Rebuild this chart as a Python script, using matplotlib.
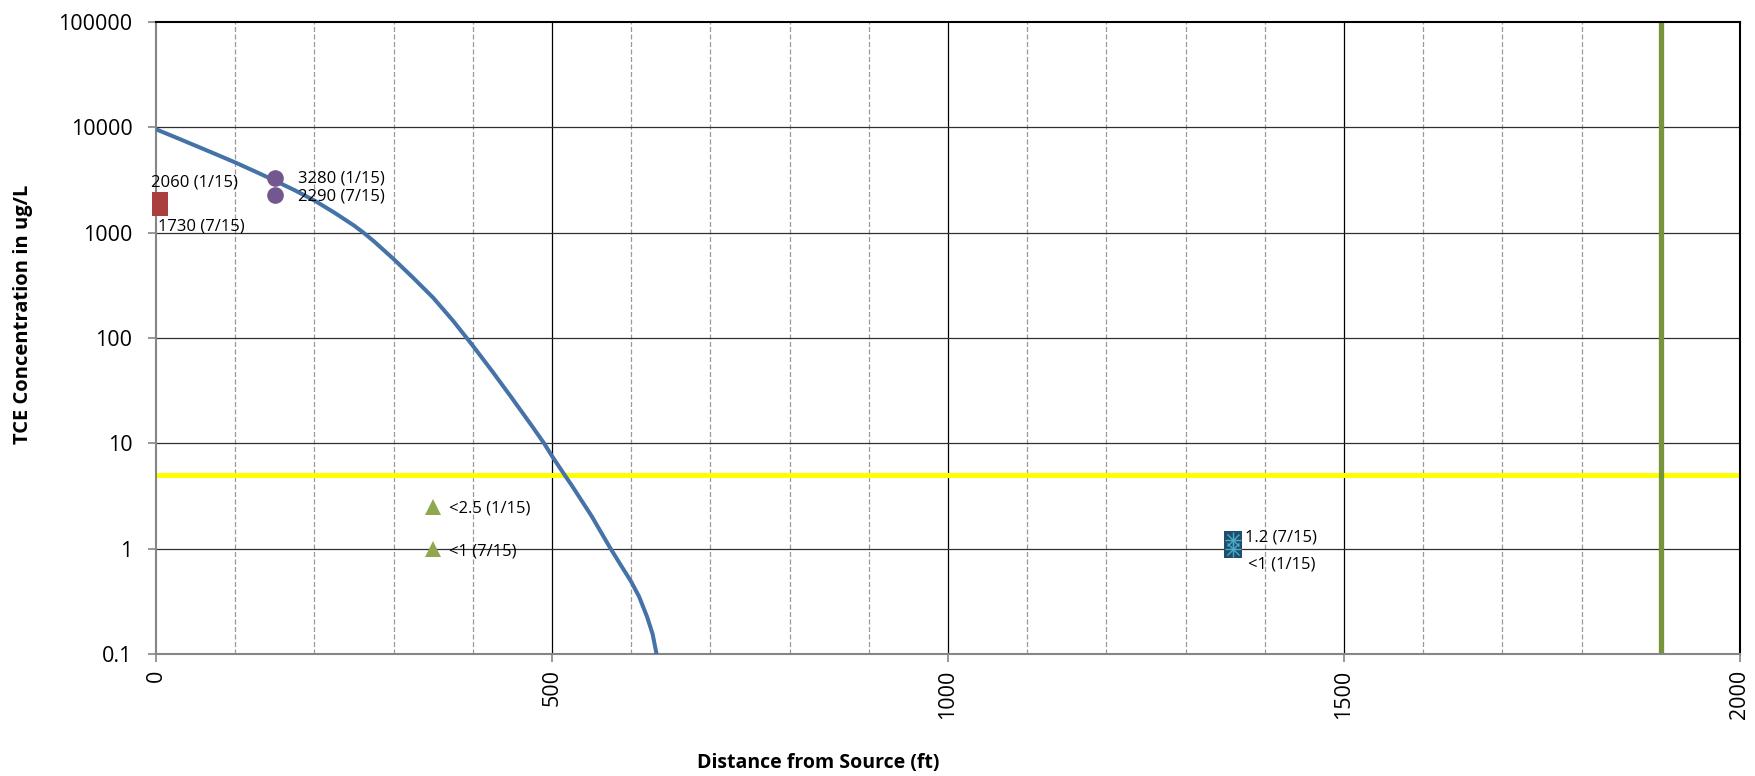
import numpy as np
import matplotlib.pyplot as plt
from matplotlib.ticker import FixedLocator, MultipleLocator, FixedFormatter

plt.rcParams['font.family'] = ['Open Sans', 'DejaVu Sans']

# model curve
curve_x = [0, 25, 50, 75, 100, 125, 150, 175, 200, 225, 250, 262, 275, 300, 325,
           350, 375, 400, 425, 450, 475, 490, 500, 516, 525, 550, 574, 590, 600,
           610, 620, 627, 632]
curve_y = [9580, 8020, 6690, 5580, 4640, 3815, 3120, 2530, 2020, 1553, 1169, 1000,
           830, 562, 371, 241, 146, 84.5, 47.8, 26.5, 14.5, 10, 7.57, 5, 3.98,
           2.04, 1, 0.64, 0.486, 0.35, 0.226, 0.155, 0.1]

# monitoring wells
sq_x = [5, 5]
sq_y = [2060, 1730]
sq_lab = ["2060 (1/15)", "1730 (7/15)"]

circ_x = [150, 150]
circ_y = [3280, 2290]
circ_lab = ["3280 (1/15)", "2290 (7/15)"]

tri_x = [350, 350]
tri_y = [2.5, 1]
tri_lab = ["<2.5 (1/15)", "<1 (7/15)"]

star_x = [1360, 1360]
star_y = [1.2, 1]
star_lab = ["1.2 (7/15)", "<1 (1/15)"]

mcl = 5
boundary_x = 1900

yticks = [0.1, 1, 10, 100, 1000, 10000, 100000]
ytick_labels = ["0.1", "1", "10", "100", "1000", "10000", "100000"]

fig = plt.figure(figsize=(17.56, 7.76), dpi=100)
ax = fig.add_axes([156/1756, 1-654/776, 1584/1756, 632/776])
ax.set_yscale('log')
ax.set_xlim(0, 2000)
ax.set_ylim(0.1, 100000)

# grid
for x in range(100, 2000, 100):
    if x % 500 == 0:
        ax.axvline(x, color='black', lw=0.9, zorder=1)
    else:
        ax.axvline(x, color='#9a9a9a', lw=0.9, ls=(0, (4, 2)), zorder=1)
for y in yticks[1:-1]:
    ax.axhline(y, color='#303030', lw=0.9, zorder=1)

ax.axhline(mcl, color='#FFFF00', lw=3.6, zorder=2)
ax.axvline(boundary_x, color='#77933C', lw=3.8, zorder=2)

ax.plot(curve_x, curve_y, color='#4572A7', lw=2.9, zorder=3,
        solid_capstyle='butt', solid_joinstyle='round')

ax.plot(sq_x, sq_y, 's', color='#A9403E', ms=12, mew=0, zorder=4, clip_on=False)
ax.plot(circ_x, circ_y, 'o', color='#73578F', ms=12, mew=0, zorder=4, clip_on=False)
ax.plot(tri_x, tri_y, '^', color='#8FA84F', ms=12, mew=0, zorder=4, clip_on=False)
ax.plot(star_x, star_y, 's', color='#1F4E6E', ms=12.5, mew=0, zorder=4)
ax.plot(star_x, star_y, 'x', color='#4BACC6', ms=9, mew=1, zorder=5)
ax.plot(star_x, star_y, '+', color='#4BACC6', ms=12, mew=1, zorder=5)

def label(xs, ys, labs, offs):
    for x, y, t, o in zip(xs, ys, labs, offs):
        ax.annotate(t, (x, y), xytext=o, textcoords='offset pixels',
                    ha='left', va='center', fontsize=12, zorder=6)

label(sq_x, sq_y, sq_lab, [(-9, 17), (-2, -19)])
label(circ_x, circ_y, circ_lab, [(23, 0), (23, -2)])
label(tri_x, tri_y, tri_lab, [(16, -2), (16, -3)])
label(star_x, star_y, star_lab, [(12, 3), (15, -16)])

ax.yaxis.set_major_locator(FixedLocator(yticks))
ax.yaxis.set_major_formatter(FixedFormatter(ytick_labels))
ax.yaxis.set_minor_locator(FixedLocator([]))
ax.xaxis.set_major_locator(MultipleLocator(500))
ax.tick_params(axis='y', labelsize=15.5, length=6, width=1.2, color='#868686', pad=11)
ax.tick_params(axis='x', labelsize=15.5, length=6, width=1.2, color='#868686', pad=5, labelrotation=90)

for s in ['left', 'bottom']:
    ax.spines[s].set_color('#868686')
    ax.spines[s].set_linewidth(1.5)
for s in ['top', 'right']:
    ax.spines[s].set_color('black')
    ax.spines[s].set_linewidth(1.5)

fig.text(818/1756, 1-763/776, "Distance from Source (ft)", ha='center', va='center',
         fontsize=14, fontweight='bold')
fig.text(23/1756, 1-314/776, "TCE Concentration in ug/L", ha='center', va='center',
         rotation=90, fontsize=14.5, fontweight='bold')

fig.savefig('out.png', dpi=100)
